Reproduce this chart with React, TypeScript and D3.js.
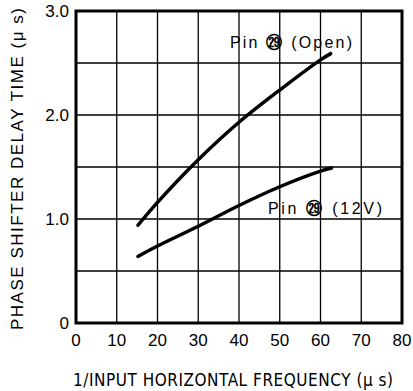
import React from 'react';
import * as d3 from 'd3';

// values
const openX = [15.2, 20, 30, 40, 50, 60, 62.5];
const openY = [0.94, 1.16, 1.57, 1.93, 2.24, 2.53, 2.59];
const v12X = [15.2, 20, 30, 40, 50, 60, 62.7];
const v12Y = [0.64, 0.74, 0.93, 1.13, 1.31, 1.46, 1.49];
const xTicks = [0, 10, 20, 30, 40, 50, 60, 70, 80];
const yTicks = [0, 1, 2, 3];
const yTickLabels = ['0', '1.0', '2.0', '3.0'];
const yGrid = [0.5, 1, 1.5, 2, 2.5];

const W = 413;
const H = 391;
const margin = { top: 11, right: 11, bottom: 68, left: 76 };

const App = () => {
  const x = d3.scaleLinear().domain([0, 80]).range([margin.left, W - margin.right]);
  const y = d3.scaleLinear().domain([0, 3]).range([H - margin.bottom, margin.top]);

  const line = d3.line<[number, number]>()
    .x(d => x(d[0]))
    .y(d => y(d[1]))
    .curve(d3.curveCatmullRom.alpha(0.5));

  const openPts = openX.map((v, i) => [v, openY[i]] as [number, number]);
  const v12Pts = v12X.map((v, i) => [v, v12Y[i]] as [number, number]);

  const font = '"Liberation Sans", Arial, sans-serif';

  return (
    <svg width={W} height={H} style={{ position: 'fixed', left: 0, top: 0, background: '#fff' }}>
      <rect x={0} y={0} width={W} height={H} fill="#fff" />
      {/* grid */}
      {xTicks.slice(1, -1).map(t => (
        <line key={'gx' + t} x1={x(t)} x2={x(t)} y1={y(0)} y2={y(3)} stroke="#000" strokeWidth={1.3} />
      ))}
      {yGrid.map(t => (
        <line key={'gy' + t} x1={x(0)} x2={x(80)} y1={y(t)} y2={y(t)} stroke="#000" strokeWidth={1.3} />
      ))}
      {/* frame */}
      <rect x={x(0)} y={y(3)} width={x(80) - x(0)} height={y(0) - y(3)} fill="none" stroke="#000" strokeWidth={3} />

      {/* curves */}
      <path d={line(openPts) || ''} fill="none" stroke="#000" strokeWidth={3.5} strokeLinecap="round" />
      <path d={line(v12Pts) || ''} fill="none" stroke="#000" strokeWidth={3.5} strokeLinecap="round" />

      <text x={230} y={48} fontFamily={font} fontSize={16} textLength={122} lengthAdjust="spacing" fill="#000">
        Pin <tspan fontWeight="bold">㉙</tspan> (Open)
      </text>
      <text x={268} y={214} fontFamily={font} fontSize={16} textLength={114} lengthAdjust="spacing" fill="#000">
        Pin <tspan fontWeight="bold">㉙</tspan> (12V)
      </text>

      {/* x ticks */}
      {xTicks.map(t => (
        <text key={'xt' + t} x={x(t)} y={346} textAnchor="middle" fontFamily={font} fontSize={17} fill="#000">{t}</text>
      ))}
      {/* y ticks */}
      {yTicks.map((t, i) => (
        <text key={'yt' + t} x={69} y={y(t) + 6} textAnchor="end" fontFamily={font} fontSize={17} fill="#000">{yTickLabels[i]}</text>
      ))}

      <text x={73} y={386} fontFamily='"DejaVu Sans Condensed", "Liberation Sans Narrow", sans-serif' fontSize={17} textLength={320} lengthAdjust="spacing" fill="#000">1/INPUT HORIZONTAL FREQUENCY (μ s)</text>
      <text transform={`translate(23,330) rotate(-90)`} fontFamily={font} fontSize={17} textLength={322} lengthAdjust="spacing" fill="#000">PHASE SHIFTER DELAY TIME (μ s)</text>
    </svg>
  );
};

export default App;
